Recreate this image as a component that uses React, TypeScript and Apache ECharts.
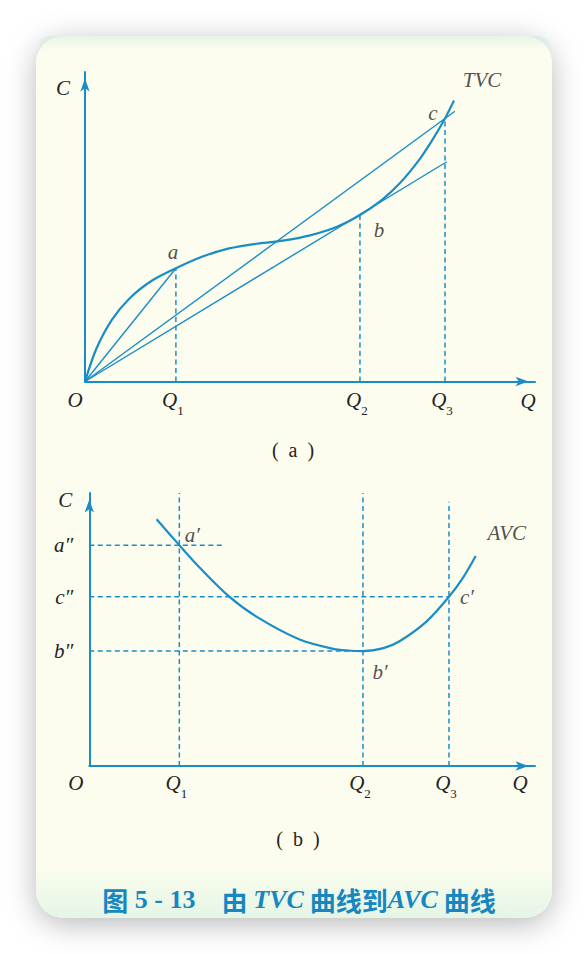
import React, { useEffect, useRef } from "react";
import * as echarts from "echarts";

// ---------- Panel (a): TVC ----------
const topQ = [2.02, 6.11, 8.0]; // Q1, Q2, Q3
const tvcAtQ = [3.66, 5.38, 8.5]; // a, b, c
const tvcCurve: number[][] = [
  [0, 0], [0.25, 1.05], [0.6, 2.0], [1.0, 2.7], [1.5, 3.27], [2.02, 3.66],
  [2.6, 4.03], [3.2, 4.3], [3.8, 4.45], [4.4, 4.55], [5.0, 4.72], [5.6, 5.0],
  [6.11, 5.38], [6.6, 5.87], [7.0, 6.41], [7.4, 7.11], [7.7, 7.76], [8.0, 8.5], [8.2, 9.08],
];
const rayToB = [8.04, 7.1];
const rayToC = [8.22, 8.73];
const topPointNames = ["a", "b", "c"];

// ---------- Panel (b): AVC ----------
const bottomQ = [2.02, 6.14, 8.07];
const avcCurve: number[][] = [
  [1.51, 9.04], [2.02, 8.09], [2.48, 7.26], [3.12, 6.23], [3.75, 5.47], [4.72, 4.63],
  [5.47, 4.29], [5.8, 4.23], [6.14, 4.21], [6.6, 4.32], [6.97, 4.58], [7.57, 5.3],
  [8.07, 6.2], [8.39, 6.91], [8.67, 7.69],
];
const levelNames = ["a″", "c″", "b″"];
const levelValues = [8.09, 6.2, 4.21];
const levelDashEnds = [3.0, 8.07, 6.14];
const verticalDashTops = [10, 10, 9.68];
const bottomPointNames = ["a′", "b′", "c′"];
const bottomPointValues = [8.09, 4.21, 6.2];

const BLUE = "#1b8dc6";
const INK = "#232323";
const CAPTION = "#1787c2";
const SERIF = "'Liberation Serif', 'DejaVu Serif', serif";
const ital = { fontFamily: SERIF, fontStyle: "italic", fontSize: 21, color: INK };

const closestIdx = (arr: number[], v: number) => {
  let best = 0;
  arr.forEach((a, i) => { if (Math.abs(a - v) < Math.abs(arr[best] - v)) best = i; });
  return best;
};

const xRich = (oPad: number) => ({
  o: { ...ital, lineHeight: 34, padding: [0, oPad, 0, 0] },
  q: { ...ital, lineHeight: 34 },
  s: { fontFamily: SERIF, fontSize: 13, color: INK, lineHeight: 14, verticalAlign: "bottom", padding: [0, 6, 0, 0] },
});

const arrowLine = {
  show: true,
  symbol: ["none", "arrow"],
  symbolSize: [7, 13],
  symbolOffset: [0, -6.5],
  lineStyle: { color: BLUE, width: 2 },
};

const dashStyle = { color: BLUE, width: 1.5, type: [5, 3.5] };

function makeLine(data: number[][], grid: number, width: number, smooth: number | boolean, dashed = false) {
  return {
    type: "line",
    xAxisIndex: grid,
    yAxisIndex: grid,
    data,
    symbol: "none",
    showSymbol: false,
    smooth,
    silent: true,
    lineStyle: dashed ? dashStyle : { color: BLUE, width },
    z: dashed ? 2 : 3,
  };
}

function labelItem(value: number[], text: string, offset: number[]) {
  return {
    value,
    label: { show: true, position: "inside", formatter: text, offset, ...ital },
  };
}

function buildOption() {
  const series: any[] = [];
  // panel a
  series.push(makeLine(tvcCurve, 0, 2.2, 0.3));
  series.push(makeLine([[0, 0], [topQ[0], tvcAtQ[0]]], 0, 1.4, false));
  series.push(makeLine([[0, 0], rayToB], 0, 1.4, false));
  series.push(makeLine([[0, 0], rayToC], 0, 1.4, false));
  topQ.forEach((q, i) => series.push(makeLine([[q, 0], [q, tvcAtQ[i]]], 0, 1.5, false, true)));
  const last = tvcCurve[tvcCurve.length - 1];
  series.push({
    type: "scatter", xAxisIndex: 0, yAxisIndex: 0, symbolSize: 0, silent: true, z: 5,
    data: [
      labelItem([topQ[0], tvcAtQ[0]], topPointNames[0], [-3, -16]),
      labelItem([topQ[1], tvcAtQ[1]], topPointNames[1], [19, 15]),
      labelItem([topQ[2], tvcAtQ[2]], topPointNames[2], [-12, -5]),
      labelItem(last, "TVC", [28, -20]),
    ],
  });
  // panel b
  series.push(makeLine(avcCurve, 1, 2.2, 0.3));
  bottomQ.forEach((q, i) => series.push(makeLine([[q, 0], [q, verticalDashTops[i]]], 1, 1.5, false, true)));
  levelValues.forEach((v, i) => series.push(makeLine([[0, v], [levelDashEnds[i], v]], 1, 1.5, false, true)));
  const lastB = avcCurve[avcCurve.length - 1];
  series.push({
    type: "scatter", xAxisIndex: 1, yAxisIndex: 1, symbolSize: 0, silent: true, z: 5,
    data: [
      labelItem([bottomQ[0], bottomPointValues[0]], bottomPointNames[0], [13, -10]),
      labelItem([bottomQ[1], bottomPointValues[1]], bottomPointNames[1], [17, 21]),
      labelItem([bottomQ[2], bottomPointValues[2]], bottomPointNames[2], [18, 0]),
      labelItem(lastB, "AVC", [31, -23]),
    ],
  });

  const xFormatter = (qs: number[]) => (v: number) => {
    if (Math.abs(v) < 1e-6) return "{o|O}";
    const i = closestIdx(qs, v);
    return `{q|Q}{s|${i + 1}}`;
  };

  return {
    animation: false,
    backgroundColor: "#ffffff",
    grid: [
      { left: 85, top: 72, width: 450, height: 309.5 },
      { left: 89.3, top: 493, width: 445.7, height: 273 },
    ],
    xAxis: [
      {
        gridIndex: 0, type: "value", min: 0, max: 10,
        axisLine: arrowLine, axisTick: { show: false }, splitLine: { show: false },
        axisLabel: { customValues: [0, ...topQ], formatter: xFormatter(topQ), rich: xRich(20), margin: 1 },
        name: "Q", nameLocation: "end", nameGap: -7, nameMoveOverlap: false,
        nameTextStyle: { ...ital, align: "center", verticalAlign: "top", lineHeight: 24, padding: [7, 0, 0, 0] },
      },
      {
        gridIndex: 1, type: "value", min: 0, max: 10,
        axisLine: arrowLine, axisTick: { show: false }, splitLine: { show: false },
        axisLabel: { customValues: [0, ...bottomQ], formatter: xFormatter(bottomQ), rich: xRich(27), margin: 0 },
        name: "Q", nameLocation: "end", nameGap: -15, nameMoveOverlap: false,
        nameTextStyle: { ...ital, align: "center", verticalAlign: "top", lineHeight: 24, padding: [5, 0, 0, 0] },
      },
    ],
    yAxis: [
      {
        gridIndex: 0, type: "value", min: 0, max: 10,
        axisLine: arrowLine, axisTick: { show: false }, splitLine: { show: false },
        axisLabel: { show: false },
        name: "C", nameLocation: "end", nameGap: -16, nameMoveOverlap: false,
        nameTextStyle: { ...ital, align: "right", verticalAlign: "middle", padding: [0, 15, 0, 0] },
      },
      {
        gridIndex: 1, type: "value", min: 0, max: 10,
        axisLine: arrowLine, axisTick: { show: false }, splitLine: { show: false },
        axisLabel: {
          customValues: levelValues,
          formatter: (v: number) => levelNames[closestIdx(levelValues, v)],
          margin: 16, ...ital,
        },
        name: "C", nameLocation: "end", nameGap: -7, nameMoveOverlap: false,
        nameTextStyle: { ...ital, align: "right", verticalAlign: "middle", padding: [0, 17, 0, 0] },
      },
    ],
    graphic: [
      {
        type: "rect", z: -10, silent: true,
        shape: { x: 36, y: 36, width: 516, height: 882, r: 28 },
        style: { fill: "#fcfdee", shadowBlur: 30, shadowColor: "rgba(0,0,0,0.28)", shadowOffsetY: 6 },
      },
      {
        type: "rect", z: -9, silent: true,
        shape: { x: 36, y: 36, width: 516, height: 14, r: [28, 28, 0, 0] },
        style: {
          fill: new echarts.graphic.LinearGradient(0, 0, 0, 1, [
            { offset: 0, color: "rgba(175,228,208,0.3)" },
            { offset: 1, color: "rgba(175,228,208,0)" },
          ]),
        },
      },
      {
        type: "rect", z: -9, silent: true,
        shape: { x: 36, y: 866, width: 516, height: 52, r: [0, 0, 28, 28] },
        style: {
          fill: new echarts.graphic.LinearGradient(0, 0, 0, 1, [
            { offset: 0, color: "rgba(175,228,208,0)" },
            { offset: 1, color: "rgba(175,228,208,0.3)" },
          ]),
        },
      },
      {
        type: "text", x: 293, y: 450, silent: true,
        style: { text: "(  a  )", fontFamily: SERIF, fontSize: 20, fill: INK, align: "center", verticalAlign: "middle" },
      },
      {
        type: "text", x: 298, y: 839, silent: true,
        style: { text: "(  b  )", fontFamily: SERIF, fontSize: 20, fill: INK, align: "center", verticalAlign: "middle" },
      },
      {
        type: "text", x: 299, y: 899, silent: true,
        style: {
          text: "{c|图}{n| 5 - 13}{c|　由 }{i|TVC}{c| 曲线到}{i|AVC}{c| 曲线}",
          align: "center", verticalAlign: "middle",
          rich: {
            c: { fontFamily: "'Noto Sans CJK SC', sans-serif", fontWeight: "bold", fontSize: 26, fill: CAPTION, lineHeight: 32 },
            n: { fontFamily: SERIF, fontWeight: "bold", fontSize: 26, fill: CAPTION, lineHeight: 32 },
            i: { fontFamily: SERIF, fontWeight: "bold", fontStyle: "italic", fontSize: 26, fill: CAPTION, lineHeight: 32 },
          },
        },
      },
    ],
    series,
  };
}

export default function App() {
  const ref = useRef<HTMLDivElement>(null);
  useEffect(() => {
    if (!ref.current) return;
    const chart = echarts.init(ref.current, null, { renderer: "svg" });
    chart.setOption(buildOption() as any);
    return () => chart.dispose();
  }, []);
  return (
    <div
      ref={ref}
      style={{ position: "fixed", left: 0, top: 0, width: 588, height: 954, background: "#fff" }}
    />
  );
}
